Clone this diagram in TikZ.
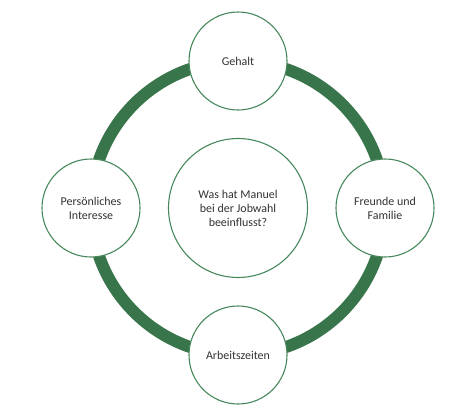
\documentclass[tikz,border=0pt]{standalone}
\usepackage{fontspec}
\setmainfont{Carlito}
\usepackage{tikz}
\usetikzlibrary{calc}

\definecolor{ringgreen}{RGB}{56,117,74}
\definecolor{edgegreen}{RGB}{70,136,92}
\tikzset{
  topic/.style={circle, draw=edgegreen, line width=1.1pt, fill=white,
    minimum size=98bp, inner sep=0pt, align=center, text=black!80,
    font=\fontsize{12}{14}\selectfont},
  ring/.style={draw=ringgreen, line width=12bp}
}

\begin{document}
\begin{tikzpicture}[x=1bp, y=1bp]
		\useasboundingbox (0,0) rectangle (470,419);

		% Question in the middle
		\node[topic, minimum size=139bp] (frage) at (238,211) {Was hat Manuel\\bei der Jobwahl\\beeinflusst?};

		% Ring
		\draw[ring] (frage.center) circle (147bp);

		% Circles on the ring
		\node[topic] (gehalt) at ($(frage.center)+(0,147)$) {Gehalt};
		\node[topic] (familie) at ($(frage.center)+(147,0)$) {Freunde und\\Familie};
		\node[topic] (zeiten) at ($(frage.center)+(0,-147)$) {Arbeitszeiten};
		\node[topic] (interesse) at ($(frage.center)+(-147,0)$) {Persönliches\\Interesse};
	\end{tikzpicture}
\end{document}
